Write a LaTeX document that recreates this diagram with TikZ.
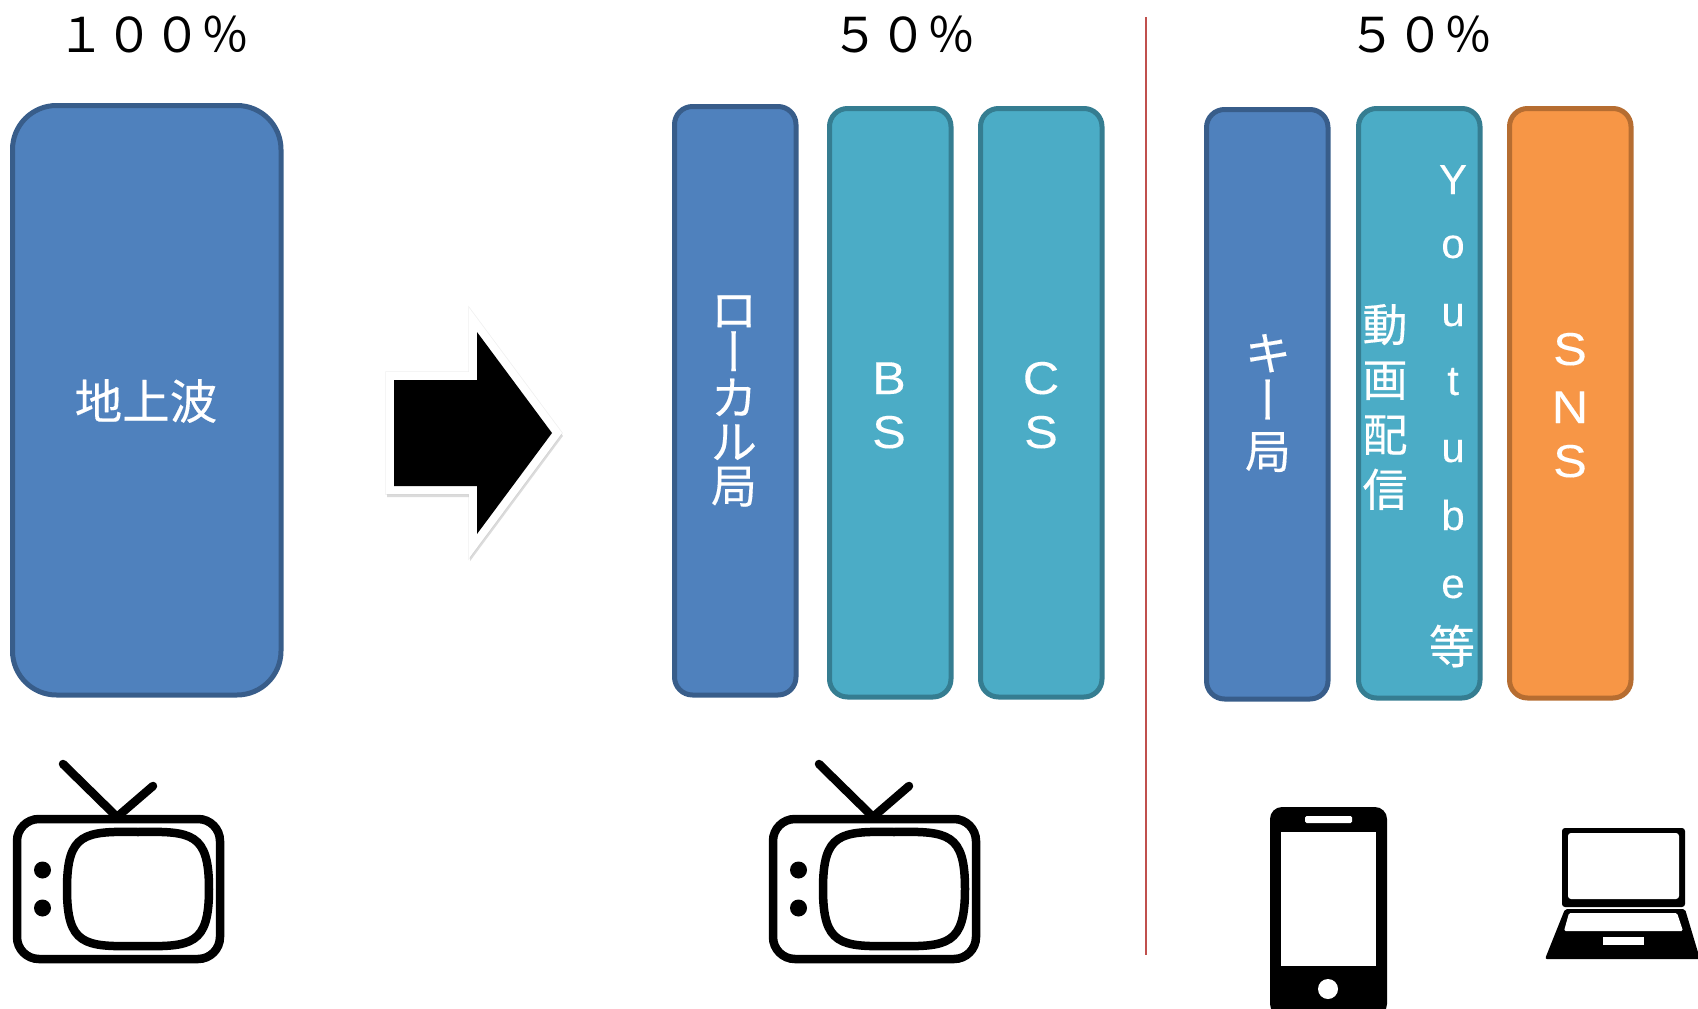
\documentclass[tikz,border=0pt]{standalone}
\usepackage{fontspec}
\usepackage{graphicx}
\setmainfont{Liberation Sans}
\newfontfamily\jp[FakeBold=0.25]{Noto Sans CJK JP}
\newfontfamily\jphead{Noto Sans CJK JP}
\newfontfamily\jpv[RawFeature=+vert,FakeBold=0.25]{Noto Sans CJK JP}
\newfontfamily\latw[FakeStretch=1.1,FakeBold=0.2]{Liberation Sans}
\newfontfamily\latn[FakeBold=0.2]{Liberation Sans}
\definecolor{bluef}{HTML}{4F81BD}\definecolor{blued}{HTML}{385D8A}
\definecolor{tealf}{HTML}{4BACC6}\definecolor{teald}{HTML}{357D91}
\definecolor{orgf}{HTML}{F79646}\definecolor{orgd}{HTML}{B66D31}
\definecolor{redl}{HTML}{C0504D}
\newcommand{\vbar}{{\jpv\scalebox{1}[1.1]{ー}}}
\tikzset{
  x=1pt,y=-1pt,
  barbox/.style={draw,line width=5pt,rounded corners=18pt,inner sep=0pt,anchor=north west},
  blueb/.style={barbox,fill=bluef,draw=blued},
  tealb/.style={barbox,fill=tealf,draw=teald},
  orgb/.style={barbox,fill=orgf,draw=orgd},
  lbl/.style={text=white,inner sep=0pt,align=center,font=\fontsize{46}{44}\selectfont\jp},
  lat/.style={text=white,inner sep=0pt,anchor=base,font=\fontsize{46}{46}\selectfont\latw},
  latsm/.style={lat,font=\fontsize{42}{42}\selectfont\latn},
  pct/.style={inner sep=0pt,font=\fontsize{48}{48}\selectfont\jphead},
  tvset/.pic={
    \draw[line width=8.5pt,rounded corners=22pt] (17,819) rectangle (220,959);
    \draw[line width=8.5pt] (138,832) .. controls (192,831) and (209,833) .. (209,889)
      .. controls (209,945) and (192,947) .. (138,946)
      .. controls (84,947) and (67,945) .. (67,889)
      .. controls (67,833) and (84,831) .. (138,832) -- cycle;
    \fill (42.5,870) circle (8.5pt);
    \fill (42.5,908) circle (8.5pt);
    \draw[line width=8.5pt,line cap=round,line join=round] (63,764) -- (117,817) -- (153,786);
  }
}
\begin{document}
\begin{tikzpicture}
\useasboundingbox (0,0) rectangle (1698,1009);
% boxes
\node[blueb,minimum width=268.5pt,minimum height=589.5pt,rounded corners=44pt] (ground) at (10,103) {};
\node[blueb,minimum width=121.5pt,minimum height=588.5pt] (local) at (672,104) {};
\node[tealb,minimum width=121.5pt,minimum height=588.5pt] (bs) at (827,106) {};
\node[tealb,minimum width=121.5pt,minimum height=588.5pt] (cs) at (978,106) {};
\node[blueb,minimum width=121.5pt,minimum height=589.5pt] (key) at (1204,107) {};
\node[tealb,minimum width=121.5pt,minimum height=589.5pt] (video) at (1356,106) {};
\node[orgb,minimum width=121.5pt,minimum height=589.5pt] (sns) at (1507,106) {};
% labels
\node[lbl,font=\fontsize{47.5}{47.5}\selectfont\jp] (tground) at (146,401) {地上波};
\node[lbl] (tlocal) at (734,401) {ロ\\\vbar\\カ\\ル\\局};
\node[lat] (tb) at (889,394) {B};
\node[lat] (ts1) at (889,448) {S};
\node[lat] (tc) at (1041,394) {C};
\node[lat] (ts2) at (1041,448) {S};
\node[lbl,font=\fontsize{46}{49}\selectfont\jp] (tkey) at (1268,403) {キ\\\vbar\\局};
\node[lbl,font=\fontsize{45}{55}\selectfont\jp] (tvideo) at (1385,407) {動\\画\\配\\信};
\node[latsm] (y1) at (1453,194) {Y};
\node[latsm] (y2) at (1453,258) {o};
\node[latsm] (y3) at (1453,326) {u};
\node[latsm] (y4) at (1453,395) {t};
\node[latsm] (y5) at (1453,462) {u};
\node[latsm] (y6) at (1453,530) {b};
\node[latsm] (y7) at (1453,598) {e};
\node[lbl] (y8) at (1452,646) {等};
\node[lat] (s1) at (1570,365) {S};
\node[lat] (s2) at (1570,423) {N};
\node[lat] (s3) at (1570,477) {S};
% percent headings
\node[pct] (p1) at (153.5,34.5) {１００％};
\node[pct] (p2) at (903.5,34.5) {５０％};
\node[pct] (p3) at (1420.5,34.5) {５０％};
% divider
\coordinate (ltop) at (1146,17);
\coordinate (lbot) at (1146,955);
\draw[redl,line width=1.6pt] (ltop) -- (lbot);
% arrow
\path[draw=black!10,line width=17.5pt,miter limit=10,opacity=.6]
  (394,380) -- (477,380) -- (477,332) -- (552,433) -- (477,534) -- (477,486) -- (394,486) -- cycle;
\path[draw=black!35,opacity=.4,line width=16pt,miter limit=10,shift={(1,3)}]
  (394,380) -- (477,380) -- (477,332) -- (552,433) -- (477,534) -- (477,486) -- (394,486) -- cycle;
\path[draw=white,line width=16pt,miter limit=10]
  (394,380) -- (477,380) -- (477,332) -- (552,433) -- (477,534) -- (477,486) -- (394,486) -- cycle;
\fill[black] (394,380) -- (477,380) -- (477,332) -- (552,433) -- (477,534) -- (477,486) -- (394,486) -- cycle;
% TVs
\pic at (0,0) {tvset};
\pic at (756,0) {tvset};
% phone
\fill[black,rounded corners=12pt] (1270,807) rectangle (1387,1016);
\fill[white] (1281,832) rectangle (1376,966);
\fill[white,rounded corners=1.5pt] (1305,816) rectangle (1352,823);
\fill[white] (1328,989) circle (10pt);
% laptop
\fill[black,rounded corners=3pt] (1562,828) rectangle (1685,907);
\fill[white,rounded corners=3pt] (1568,833) rectangle (1679,899);
\fill[black,rounded corners=2pt] (1565,909) -- (1685,909) -- (1700,959) -- (1545,959) -- cycle;
\fill[white,rounded corners=1.5pt] (1569,913) -- (1677,913) -- (1683,931) -- (1564,931) -- cycle;
\fill[white] (1603,937) rectangle (1644,945);
\end{tikzpicture}
\end{document}
